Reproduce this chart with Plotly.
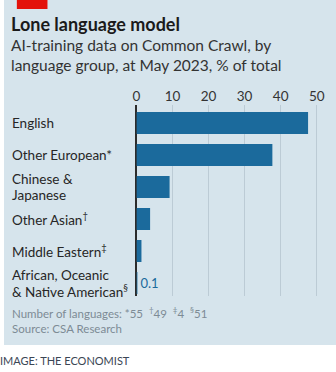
import plotly.graph_objects as go

# Share of Common Crawl training data by language group, May 2023 (% of total)
groups = [
    "English",
    "Other European*",
    "Chinese &<br>Japanese",
    "Other Asian†",
    "Middle Eastern‡",
    "African, Oceanic<br>& Native American§",
]
shares = [47.6, 37.7, 9.2, 3.8, 1.4, 0.1]
x_ticks = [0, 10, 20, 30, 40, 50]
footnote_marks = ["*", "†", "‡", "§"]
footnote_counts = [55, 49, 4, 51]

W, H = 336, 372
BG = "#d6e4ec"
BAR = "#1b6a9c"
FONT = "Lato"
MARKS = "†‡§"
NUDGE = -7  # annotation text box inset


def px_x(p):
    return p / W


def px_y(p):
    return 1 - p / H


def raise_marks(s):
    for m in MARKS:
        s = s.replace(m, f"<sup>{m}</sup>")
    return s


def note(x, y, text, size, color, bold=False):
    fig.add_annotation(
        x=px_x(x), y=px_y(y), xref="paper", yref="paper",
        xanchor="left", yanchor="middle", align="left", showarrow=False,
        xshift=NUDGE,
        text=f"<b>{text}</b>" if bold else text,
        font=dict(family=FONT, size=size, color=color),
    )


positions = list(range(len(groups)))
labels_small = [f"{v:g}" if v < 1 else "" for v in shares]

fig = go.Figure(
    go.Bar(
        x=shares,
        y=positions,
        orientation="h",
        marker=dict(color=BAR, line=dict(width=0)),
        width=0.69,
        text=labels_small,
        textposition="outside",
        cliponaxis=False,
        textfont=dict(family=FONT, size=13, color=BAR),
        hoverinfo="skip",
    )
)

# category labels, left aligned at the panel edge
for i, g in enumerate(groups):
    lines = g.split("<br>")
    n = len(lines)
    for j, line in enumerate(lines):
        fig.add_annotation(
            x=px_x(13), xref="paper", xanchor="left", align="left",
            y=i, yref="y", yanchor="middle", xshift=NUDGE,
            yshift=(n - 1) * 8 - j * 16,
            text=raise_marks(line), showarrow=False,
            font=dict(family=FONT, size=13.5, color="#262626"),
        )

# title block
note(12, 24, "Lone language model", 18, "#1a1a1a", bold=True)
note(12, 45, "AI-training data on Common Crawl, by", 15.5, "#333333")
note(12, 65, "language group, at May 2023, % of total", 15.5, "#333333")

# footnotes
foot = "Number of languages: " + "  ".join(
    f"{m}{c}" for m, c in zip(footnote_marks, footnote_counts))
note(13, 312, raise_marks(foot), 11.5, "#7d8b95")
note(13, 328, "Source: CSA Research", 11.5, "#7d8b95")
note(1, 360, "IMAGE: THE ECONOMIST", 11, "#3b4654")

# panel background and red tag
fig.add_shape(type="rect", xref="paper", yref="paper",
              x0=0, x1=1, y0=px_y(345), y1=1,
              fillcolor=BG, line=dict(width=0), layer="below")
fig.add_shape(type="rect", xref="paper", yref="paper",
              x0=px_x(13), x1=px_x(44), y0=px_y(9), y1=1,
              fillcolor="#e3120b", line=dict(width=0), layer="below")

# 3.65 px per unit, zero at x=134px
x_left, x_right = 134, 334
fig.update_xaxes(
    domain=[px_x(x_left), px_x(x_right)],
    range=[0, (x_right - x_left) / 3.65],
    side="top",
    tickvals=x_ticks,
    ticks="",
    showgrid=True, gridcolor="#bccbd5", gridwidth=1,
    zeroline=True, zerolinecolor="#2b2b2b", zerolinewidth=1.5,
    showline=False,
    tickfont=dict(family=FONT, size=13.5, color="#333333"),
    fixedrange=True,
)

top_px, bot_px = 105, 296
first_center, step = 123, 32
fig.update_yaxes(
    domain=[px_y(bot_px), px_y(top_px)],
    range=[(bot_px - first_center) / step, (top_px - first_center) / step],
    showticklabels=False, showgrid=False, zeroline=False, showline=False,
    fixedrange=True,
)

fig.update_layout(
    width=W, height=H,
    margin=dict(l=0, r=0, t=0, b=0),
    paper_bgcolor="white",
    plot_bgcolor="rgba(0,0,0,0)",
    showlegend=False,
    bargap=0.31,
    font=dict(family=FONT),
)

fig.write_html("out.html", config={"displayModeBar": False})
